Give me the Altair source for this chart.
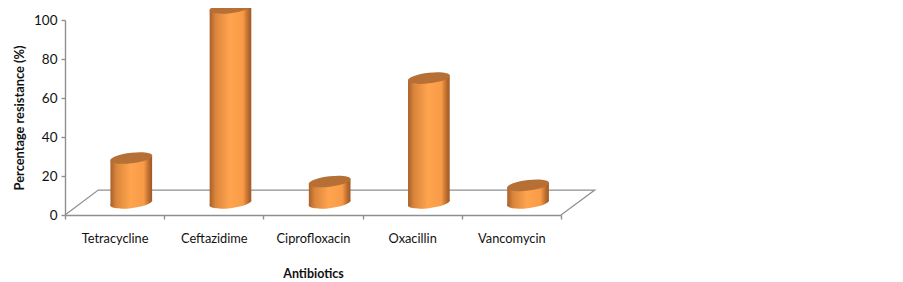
import altair as alt
import pandas as pd

categories = ["Tetracycline", "Ceftazidime", "Ciprofloxacin", "Oxacillin", "Vancomycin"]
values = [23, 100, 11, 64, 9]

# 3D look, in data units: floor outline, depth of the cylinders, tilt of their ends
floor_x = [0, 0.335, 5.34, 5]
floor_y = [0, 12.8, 12.8, 0]
depth_x = 0.668
depth_y = 6.2
half_w = 0.21
tilt = 1.25

FONT = "Lato"
AXIS_COLOR = "#8f8f8f"

k, b, s = 0.5523, 0.25, 0.115
kb = k * b
def P(x, y):
    return f"{x:.4f},{y - s * x:.4f}"
ELLIPSE = (
    f"M{P(-1, 0)} C{P(-1, -kb)} {P(-k, -b)} {P(0, -b)} "
    f"C{P(k, -b)} {P(1, -kb)} {P(1, 0)} "
    f"C{P(1, kb)} {P(k, b)} {P(0, b)} "
    f"C{P(-k, b)} {P(-1, kb)} {P(-1, 0)} Z"
)

gradient = alt.Gradient(
    gradient="linear", x1=0, x2=1, y1=0, y2=0,
    stops=[
        alt.GradientStop(color="#a9602a", offset=0),
        alt.GradientStop(color="#d9853b", offset=0.14),
        alt.GradientStop(color="#ffa44e", offset=0.48),
        alt.GradientStop(color="#f79b47", offset=0.8),
        alt.GradientStop(color="#b8692c", offset=0.93),
        alt.GradientStop(color="#9c5a28", offset=1),
    ],
)

df = pd.DataFrame({"cat": categories, "value": values})
df["xc"] = [i + depth_x for i in range(len(categories))]
df["top"] = df["value"] + depth_y
df["base"] = depth_y

body = pd.DataFrame(
    [
        {"cat": c, "x": x + d * half_w, "top": t + d * tilt, "bot": depth_y + d * tilt}
        for c, x, t in zip(df["cat"], df["xc"], df["top"])
        for d in (-1, 1)
    ]
)
floor = pd.DataFrame({"x": floor_x, "y": floor_y, "o": range(len(floor_x))})

xq = alt.Scale(domain=[0, 5], nice=False, zero=False)
yq = alt.Scale(domain=[0, 100], nice=False)

y_axis = alt.Axis(
    title="Percentage resistance (%)", values=[0, 20, 40, 60, 80, 100],
    labelPadding=4, titlePadding=7, labelFont=FONT, labelFontSize=13.5,
    titleFont=FONT, titleFontSize=12.8, titleFontWeight="bold",
    labelColor="#111111", titleColor="#111111", domainColor=AXIS_COLOR,
    tickColor=AXIS_COLOR, domainWidth=1.4, tickWidth=1.4, tickSize=4,
    grid=False,
)

axis_layer = (
    alt.Chart(df)
    .mark_bar(opacity=0)
    .encode(
        x=alt.X(
            "cat:N",
            sort=categories,
            scale=alt.Scale(paddingInner=0, paddingOuter=0),
            axis=alt.Axis(
                title="Antibiotics", labelAngle=0, tickBand="extent", labelPadding=13,
                titlePadding=23, labelFont=FONT, labelFontSize=12.8, titleFont=FONT,
                titleFontSize=12.5, titleFontWeight="bold", labelColor="#111111",
                titleColor="#111111", domainColor=AXIS_COLOR, tickColor=AXIS_COLOR,
                domainWidth=1.4, tickWidth=1.4, tickSize=4, grid=False,
            ),
        ),
        y=alt.Y("value:Q", scale=yq, axis=y_axis),
    )
)

floor_layer = (
    alt.Chart(floor)
    .mark_line(color=AXIS_COLOR, strokeWidth=1.2, clip=False)
    .encode(
        x=alt.X("x:Q", scale=xq, axis=None),
        y=alt.Y("y:Q", scale=yq, axis=y_axis),
        order="o:O",
    )
)

bottom_layer = (
    alt.Chart(df)
    .mark_point(shape=ELLIPSE, size=1764, filled=True, fill=gradient, opacity=1, strokeWidth=0)
    .encode(x=alt.X("xc:Q", scale=xq, axis=None), y=alt.Y("base:Q", scale=yq, axis=y_axis))
)

body_layer = (
    alt.Chart(body)
    .mark_area(fill=gradient, opacity=1)
    .encode(
        x=alt.X("x:Q", scale=xq, axis=None),
        y=alt.Y("top:Q", scale=yq, axis=y_axis),
        y2="bot:Q",
        detail="cat:N",
    )
)

top_layer = (
    alt.Chart(df)
    .mark_point(shape=ELLIPSE, size=1764, filled=True, fill="#b66f35", opacity=1, strokeWidth=0)
    .encode(x=alt.X("xc:Q", scale=xq, axis=None), y=alt.Y("top:Q", scale=yq, axis=y_axis))
)

chart = (
    alt.layer(axis_layer, floor_layer, bottom_layer, body_layer, top_layer)
    .resolve_scale(x="independent")
    .properties(
        width=496,
        height=195,
        autosize=alt.AutoSizeParams(type="none"),
        padding={"left": 57, "top": 12, "right": 60, "bottom": 67},
        background="white",
    )
    .configure_view(stroke=None)
)

chart.save("out.html", embed_options={"renderer": "svg", "actions": False})
